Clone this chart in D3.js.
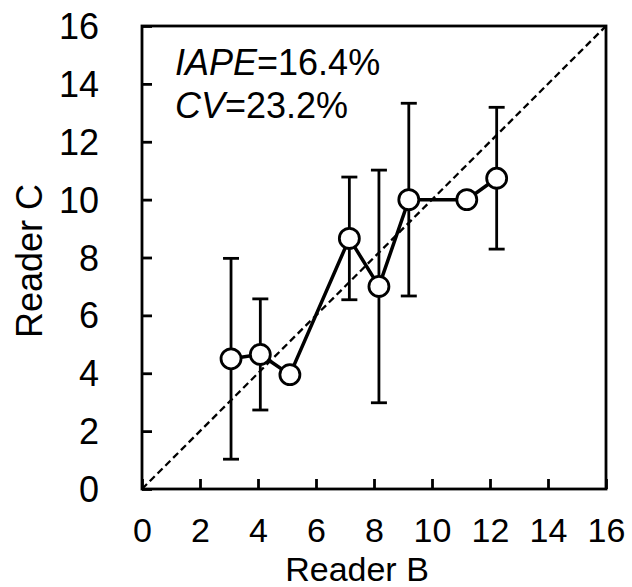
<!DOCTYPE html>
<html>
<head>
<meta charset="utf-8">
<script src="https://cdn.jsdelivr.net/npm/d3@7"></script>
<style>
  body { margin: 0; background: #fff; }
  svg text { font-family: "Liberation Sans", Arial, sans-serif; fill: #000; }
</style>
</head>
<body>
<svg id="chart" width="632" height="587"></svg>
<script>
// values
var readerB = [3.07, 4.08, 5.1, 7.15, 8.17, 9.2, 11.2, 12.23];
var readerC = [4.5, 4.65, 3.95, 8.66, 7.0, 10.0, 10.0, 10.74];
var errC    = [3.47, 1.92, 0, 2.12, 4.02, 3.33, 0, 2.45];
var tickVals = [0, 2, 4, 6, 8, 10, 12, 14, 16];

var svg = d3.select("#chart");
var plotL = 142, plotR = 606, plotT = 26, plotB = 489;
var fs = 36;

var x = d3.scaleLinear().domain([0, 16]).range([plotL, plotR]);
var y = d3.scaleLinear().domain([0, 16]).range([plotB, plotT]);

var data = readerB.map(function(b, i) { return { b: b, c: readerC[i], e: errC[i] }; });

// 1:1 line
svg.append("line")
    .attr("x1", x(0)).attr("y1", y(0))
    .attr("x2", x(16)).attr("y2", y(16))
    .attr("stroke", "#000").attr("stroke-width", 2.3)
    .attr("stroke-dasharray", "7,4");

// error bars
var eb = svg.append("g").selectAll("g")
    .data(data.filter(function(d) { return d.e > 0; }))
    .enter().append("g")
    .attr("stroke", "#000").attr("stroke-width", 2.8);

eb.append("line")
    .attr("x1", function(d) { return x(d.b); }).attr("x2", function(d) { return x(d.b); })
    .attr("y1", function(d) { return y(d.c - d.e); }).attr("y2", function(d) { return y(d.c + d.e); });
eb.append("line")
    .attr("x1", function(d) { return x(d.b) - 8; }).attr("x2", function(d) { return x(d.b) + 8; })
    .attr("y1", function(d) { return y(d.c + d.e); }).attr("y2", function(d) { return y(d.c + d.e); });
eb.append("line")
    .attr("x1", function(d) { return x(d.b) - 8; }).attr("x2", function(d) { return x(d.b) + 8; })
    .attr("y1", function(d) { return y(d.c - d.e); }).attr("y2", function(d) { return y(d.c - d.e); });

// connecting line
var line = d3.line().x(function(d) { return x(d.b); }).y(function(d) { return y(d.c); });
svg.append("path").datum(data)
    .attr("d", line)
    .attr("fill", "none").attr("stroke", "#000").attr("stroke-width", 3.5);

// markers
svg.append("g").selectAll("circle")
    .data(data).enter().append("circle")
    .attr("cx", function(d) { return x(d.b); })
    .attr("cy", function(d) { return y(d.c); })
    .attr("r", 10)
    .attr("fill", "#fff").attr("stroke", "#000").attr("stroke-width", 2.8);

// axes, ticks inward
var xAxis = svg.append("g").attr("transform", "translate(0," + plotB + ")")
    .call(d3.axisBottom(x).tickValues(tickVals).tickSize(-10).tickPadding(29));
var yAxis = svg.append("g").attr("transform", "translate(" + plotL + ",0)")
    .call(d3.axisLeft(y).tickValues(tickVals).tickSize(-10).tickPadding(43));

[xAxis, yAxis].forEach(function(ax) {
  ax.select(".domain").remove();
  ax.selectAll(".tick line").attr("stroke", "#000").attr("stroke-width", 2.8);
  ax.selectAll("text").attr("font-size", fs).attr("font-family", "Liberation Sans, Arial, sans-serif").attr("fill", "#000");
});
xAxis.selectAll("text").attr("font-size", 34);
yAxis.selectAll("text").attr("dy", "0.35em");

// frame
svg.append("rect")
    .attr("x", plotL).attr("y", plotT)
    .attr("width", plotR - plotL).attr("height", plotB - plotT)
    .attr("fill", "none").attr("stroke", "#000").attr("stroke-width", 2.8);

// axis titles
svg.append("text")
    .attr("x", 357).attr("y", 581)
    .attr("text-anchor", "middle").attr("font-size", 34)
    .text("Reader B");
svg.append("text")
    .attr("transform", "translate(42,261) rotate(-90)")
    .attr("text-anchor", "middle").attr("font-size", fs)
    .text("Reader C");

// stats
var t1 = svg.append("text").attr("x", 175).attr("y", 75).attr("font-size", fs);
t1.append("tspan").attr("font-style", "italic").text("IAPE");
t1.append("tspan").text("=16.4%");
var t2 = svg.append("text").attr("x", 175).attr("y", 118).attr("font-size", fs);
t2.append("tspan").attr("font-style", "italic").text("CV");
t2.append("tspan").text("=23.2%");
</script>
</body>
</html>
